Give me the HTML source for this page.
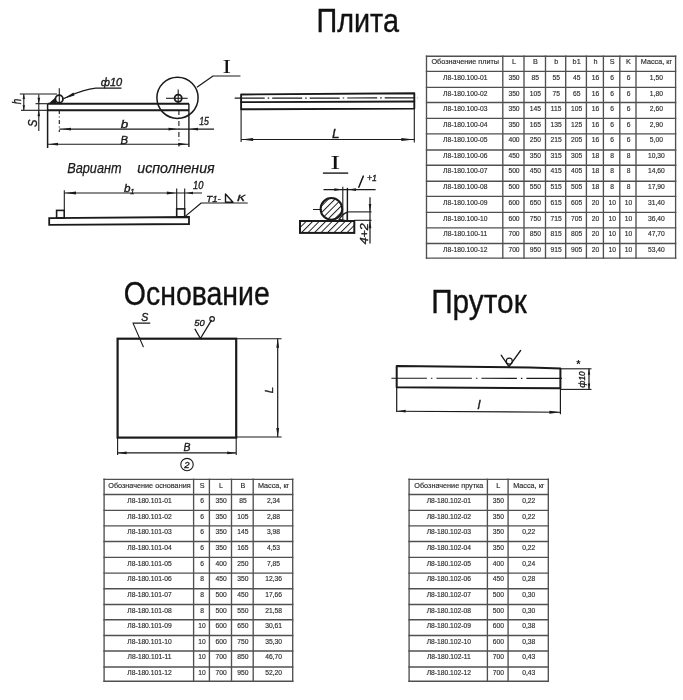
<!DOCTYPE html><html><head><meta charset="utf-8"><style>html,body{margin:0;padding:0;background:#fff;width:683px;height:700px;overflow:hidden}svg{display:block;filter:grayscale(1) blur(0.3px)}</style></head><body>
<svg width="683" height="700" viewBox="0 0 683 700" font-family='"Liberation Sans", sans-serif'>
<rect width="683" height="700" fill="#fff"/>
<text x="316.5" y="31.8" font-size="33" text-anchor="start" fill="#111" font-family='"Liberation Sans", sans-serif' textLength="82.5" lengthAdjust="spacingAndGlyphs" stroke="#111" stroke-width="0.35" style="">Плита</text>
<text x="123.8" y="304.8" font-size="33" text-anchor="start" fill="#111" font-family='"Liberation Sans", sans-serif' textLength="146" lengthAdjust="spacingAndGlyphs" stroke="#111" stroke-width="0.35" style="">Основание</text>
<text x="431.2" y="313.0" font-size="33" text-anchor="start" fill="#111" font-family='"Liberation Sans", sans-serif' textLength="95.5" lengthAdjust="spacingAndGlyphs" stroke="#111" stroke-width="0.35" style="">Пруток</text>
<line x1="47.6" y1="103.7" x2="189" y2="103.7" stroke="#1a1a1a" stroke-width="2.0" />
<line x1="47.6" y1="110.2" x2="189" y2="110.2" stroke="#1a1a1a" stroke-width="1.9" />
<line x1="47.6" y1="103.7" x2="47.6" y2="148" stroke="#1a1a1a" stroke-width="1.5" />
<line x1="188.9" y1="103.7" x2="188.9" y2="147" stroke="#1a1a1a" stroke-width="1.4" />
<circle cx="59.2" cy="99" r="3.8" fill="none" stroke="#1a1a1a" stroke-width="1.8"/>
<path d="M48.5 103.7 L52 100.5 L55.5 97.5 L56.5 103.7 Z" fill="#1a1a1a" stroke="none" stroke-width="1.2" stroke-linecap="round" stroke-linejoin="round"/>
<line x1="59.3" y1="88.3" x2="59.3" y2="104" stroke="#1a1a1a" stroke-width="1.1" />
<line x1="59.3" y1="110" x2="59.3" y2="132" stroke="#1a1a1a" stroke-width="1.1" stroke-dasharray="4,2.5,1,2.5"/>
<circle cx="178.2" cy="98.3" r="3.6" fill="none" stroke="#1a1a1a" stroke-width="1.8"/>
<line x1="166" y1="98.3" x2="187.6" y2="98.3" stroke="#1a1a1a" stroke-width="1.1" />
<line x1="178.2" y1="89.5" x2="178.2" y2="103" stroke="#1a1a1a" stroke-width="1.1" />
<line x1="178.9" y1="110" x2="178.9" y2="146.5" stroke="#1a1a1a" stroke-width="1.1" stroke-dasharray="5,2.5,1,2.5"/>
<circle cx="177.5" cy="97.8" r="20.6" fill="none" stroke="#1a1a1a" stroke-width="1.5"/>
<path d="M197.3 87 L213 76 L240 76" fill="none" stroke="#1a1a1a" stroke-width="1.2" stroke-linecap="round" stroke-linejoin="round"/>
<text x="226.8" y="72.8" font-size="19.5" text-anchor="middle" fill="#111" font-family='"Liberation Serif", serif' textLength="8.5" lengthAdjust="spacingAndGlyphs"  style="">I</text>
<path d="M64 98.5 C72 95, 82 89.5, 95.7 88.2 L121 88.2" fill="none" stroke="#1a1a1a" stroke-width="1.2" stroke-linecap="round" stroke-linejoin="round"/>
<path d="M63.5 98.8 L73.5 92.5 L74.5 95.5 Z" fill="#1a1a1a" stroke="none" stroke-width="1.2" stroke-linecap="round" stroke-linejoin="round"/>
<text x="111.5" y="85.8" font-size="10.5" text-anchor="middle" fill="#1a1a1a" stroke="#1a1a1a" stroke-width="0.35" font-style="italic" textLength="21.5" lengthAdjust="spacingAndGlyphs">ф10</text>
<line x1="19.8" y1="94" x2="57" y2="94" stroke="#1a1a1a" stroke-width="1.1" />
<line x1="21" y1="110.3" x2="47.6" y2="110.3" stroke="#1a1a1a" stroke-width="1.1" />
<line x1="23.8" y1="94" x2="23.8" y2="110.3" stroke="#1a1a1a" stroke-width="1.1" />
<path d="M23.80 94.00 L25.00 99.00 L22.60 99.00 Z" fill="#1a1a1a"/>
<path d="M23.80 110.30 L22.60 105.30 L25.00 105.30 Z" fill="#1a1a1a"/>
<text transform="translate(21.4,101.6) rotate(-90)" font-size="12.5" text-anchor="middle" fill="#1a1a1a" stroke="#1a1a1a" stroke-width="0.35" font-style="italic" textLength="5.5" lengthAdjust="spacingAndGlyphs">h</text>
<line x1="35.5" y1="103.7" x2="47.6" y2="103.7" stroke="#1a1a1a" stroke-width="1.1" />
<line x1="38.8" y1="94.5" x2="38.8" y2="131" stroke="#1a1a1a" stroke-width="1.1" />
<path d="M38.80 103.70 L37.50 97.70 L40.10 97.70 Z" fill="#1a1a1a"/>
<path d="M38.80 110.30 L40.10 116.30 L37.50 116.30 Z" fill="#1a1a1a"/>
<text transform="translate(37.3,123.2) rotate(-90)" font-size="12" text-anchor="middle" fill="#1a1a1a" stroke="#1a1a1a" stroke-width="0.35" font-style="italic" textLength="7.5" lengthAdjust="spacingAndGlyphs">S</text>
<line x1="59.3" y1="129.1" x2="214" y2="129.1" stroke="#1a1a1a" stroke-width="1.1" />
<path d="M62.00 129.10 L71.00 127.70 L71.00 130.50 Z" fill="#1a1a1a"/>
<path d="M177.50 129.10 L168.50 130.50 L168.50 127.70 Z" fill="#1a1a1a"/>
<path d="M190.00 129.10 L198.00 127.80 L198.00 130.40 Z" fill="#1a1a1a"/>
<text x="124.5" y="127.8" font-size="11.5" text-anchor="middle" fill="#1a1a1a" stroke="#1a1a1a" stroke-width="0.35" font-style="italic" textLength="7.5" lengthAdjust="spacingAndGlyphs">b</text>
<text x="204" y="124.7" font-size="10.5" text-anchor="middle" fill="#1a1a1a" stroke="#1a1a1a" stroke-width="0.35" font-style="italic" textLength="9.7" lengthAdjust="spacingAndGlyphs">15</text>
<line x1="47.6" y1="144.2" x2="188.9" y2="144.2" stroke="#1a1a1a" stroke-width="1.1" />
<path d="M49.00 144.20 L58.00 142.80 L58.00 145.60 Z" fill="#1a1a1a"/>
<path d="M187.50 144.20 L178.50 145.60 L178.50 142.80 Z" fill="#1a1a1a"/>
<text x="124.3" y="143.6" font-size="11.5" text-anchor="middle" fill="#1a1a1a" stroke="#1a1a1a" stroke-width="0.35" font-style="italic" textLength="7.5" lengthAdjust="spacingAndGlyphs">B</text>
<text x="67.2" y="173.2" font-size="14" text-anchor="start" fill="#1a1a1a" stroke="#1a1a1a" stroke-width="0.25" font-style="italic" textLength="54.4" lengthAdjust="spacingAndGlyphs">Вариант</text>
<text x="137.3" y="173.2" font-size="14" text-anchor="start" fill="#1a1a1a" stroke="#1a1a1a" stroke-width="0.25" font-style="italic" textLength="77.3" lengthAdjust="spacingAndGlyphs">исполнения</text>
<path d="M49.2 218.2 L189 217 L189 224 L49.2 224.8 Z" fill="none" stroke="#1a1a1a" stroke-width="1.8"/>
<rect x="56.6" y="210.4" width="7.6" height="7.6" fill="none" stroke="#1a1a1a" stroke-width="1.6"/>
<rect x="176.7" y="208.9" width="8" height="8" fill="none" stroke="#1a1a1a" stroke-width="1.6"/>
<line x1="64.3" y1="190.3" x2="64.3" y2="210.4" stroke="#1a1a1a" stroke-width="1.1" />
<line x1="176.7" y1="188.5" x2="176.7" y2="209" stroke="#1a1a1a" stroke-width="1.1" />
<line x1="184.7" y1="188.5" x2="184.7" y2="209" stroke="#1a1a1a" stroke-width="1.1" />
<line x1="64.3" y1="193" x2="202" y2="193" stroke="#1a1a1a" stroke-width="1.1" />
<path d="M65.00 193.00 L76.00 191.50 L76.00 194.50 Z" fill="#1a1a1a"/>
<path d="M175.80 193.00 L166.80 194.40 L166.80 191.60 Z" fill="#1a1a1a"/>
<path d="M186.00 193.00 L193.00 191.70 L193.00 194.30 Z" fill="#1a1a1a"/>
<text x="127.3" y="192.2" font-size="11" text-anchor="middle" fill="#1a1a1a" stroke="#1a1a1a" stroke-width="0.35" font-style="italic" textLength="6.5" lengthAdjust="spacingAndGlyphs">b</text>
<text x="132.4" y="193.6" font-size="7.5" text-anchor="middle" fill="#1a1a1a" stroke="#1a1a1a" stroke-width="0.35" font-style="italic">1</text>
<text x="198.2" y="189.4" font-size="10" text-anchor="middle" fill="#1a1a1a" stroke="#1a1a1a" stroke-width="0.35" font-style="italic" textLength="10.3" lengthAdjust="spacingAndGlyphs">10</text>
<path d="M185.8 215.9 L201.2 203 L247.3 203" fill="none" stroke="#1a1a1a" stroke-width="1.2" stroke-linecap="round" stroke-linejoin="round"/>
<text x="206.3" y="202.2" font-size="9.5" text-anchor="start" fill="#1a1a1a" stroke="#1a1a1a" stroke-width="0.35" font-style="italic" textLength="14.5" lengthAdjust="spacingAndGlyphs">Т1-</text>
<path d="M225.5 194 L225.5 202.2 L233 202.2 Z" fill="none" stroke="#1a1a1a" stroke-width="1.4" stroke-linecap="round" stroke-linejoin="round"/>
<text x="237" y="200.8" font-size="8.5" text-anchor="start" fill="#1a1a1a" stroke="#1a1a1a" stroke-width="0.35" font-style="italic" textLength="8" lengthAdjust="spacingAndGlyphs">К</text>
<path d="M241.1 94.5 L414.3 93.2 L414.3 108.6 L241.1 109.3 Z" fill="none" stroke="#1a1a1a" stroke-width="1.9" stroke-linecap="round" stroke-linejoin="round"/>
<path d="M241.1 102.1 L414.3 101.5" fill="none" stroke="#1a1a1a" stroke-width="1.8" stroke-linecap="round" stroke-linejoin="round"/>
<line x1="234.7" y1="98.2" x2="418" y2="97.9" stroke="#1a1a1a" stroke-width="1.2" stroke-dasharray="30,3,1.5,3"/>
<line x1="241.1" y1="109.3" x2="241.1" y2="142" stroke="#1a1a1a" stroke-width="1.1" />
<line x1="414.3" y1="108.6" x2="414.3" y2="142.4" stroke="#1a1a1a" stroke-width="1.1" />
<line x1="241.1" y1="139.5" x2="414.3" y2="139.5" stroke="#1a1a1a" stroke-width="1.1" />
<path d="M241.10 139.50 L253.10 138.10 L253.10 140.90 Z" fill="#1a1a1a"/>
<path d="M414.30 139.50 L401.30 141.00 L401.30 138.00 Z" fill="#1a1a1a"/>
<text x="335.7" y="138" font-size="12.5" text-anchor="middle" fill="#1a1a1a" stroke="#1a1a1a" stroke-width="0.35" font-style="italic" textLength="7.5" lengthAdjust="spacingAndGlyphs">L</text>
<text x="335.2" y="169.3" font-size="19.5" text-anchor="middle" fill="#111" font-family='"Liberation Serif", serif' textLength="10" lengthAdjust="spacingAndGlyphs"  style="">I</text>
<line x1="322.9" y1="173.1" x2="348.2" y2="173.1" stroke="#1a1a1a" stroke-width="1.4" />
<defs><pattern id="hat" width="4.6" height="4.6" patternUnits="userSpaceOnUse" patternTransform="rotate(45)"><line x1="0" y1="0" x2="0" y2="4.6" stroke="#1a1a1a" stroke-width="1.9"/></pattern></defs>
<line x1="313" y1="209.5" x2="322" y2="209.5" stroke="#1a1a1a" stroke-width="1.0" />
<circle cx="331.4" cy="208.9" r="10.8" fill="url(#hat)" stroke="#1a1a1a" stroke-width="2"/>
<rect x="300" y="221" width="54.3" height="11.9" fill="url(#hat)" stroke="#1a1a1a" stroke-width="2"/>
<path d="M339 219.5 Q343 213.5 347.3 212.2 L347.3 221 Z" fill="none" stroke="#1a1a1a" stroke-width="1.3" stroke-linecap="round" stroke-linejoin="round"/>
<line x1="342.8" y1="186.7" x2="342.8" y2="221" stroke="#1a1a1a" stroke-width="1.1" />
<line x1="347.4" y1="187.8" x2="347.4" y2="221" stroke="#1a1a1a" stroke-width="1.4" />
<line x1="323.5" y1="189.6" x2="375.6" y2="189.6" stroke="#1a1a1a" stroke-width="1.2" />
<path d="M342.30 189.60 L334.30 191.00 L334.30 188.20 Z" fill="#1a1a1a"/>
<path d="M348.00 189.60 L356.00 188.20 L356.00 191.00 Z" fill="#1a1a1a"/>
<line x1="347.5" y1="211.9" x2="371.5" y2="211.9" stroke="#1a1a1a" stroke-width="1.1" />
<line x1="354.3" y1="220.3" x2="371.5" y2="220.3" stroke="#1a1a1a" stroke-width="1.1" />
<line x1="370" y1="197.2" x2="370" y2="243.6" stroke="#1a1a1a" stroke-width="1.2" />
<path d="M370.00 211.90 L368.70 203.90 L371.30 203.90 Z" fill="#1a1a1a"/>
<path d="M370.00 220.30 L371.30 228.30 L368.70 228.30 Z" fill="#1a1a1a"/>
<path d="M358.8 187.3 L363.3 176.1" fill="none" stroke="#1a1a1a" stroke-width="1.5" stroke-linecap="round" stroke-linejoin="round"/>
<text x="372" y="181.3" font-size="9.5" text-anchor="middle" fill="#1a1a1a" stroke="#1a1a1a" stroke-width="0.35" font-style="italic" textLength="10" lengthAdjust="spacingAndGlyphs">+1</text>
<text transform="translate(367.6,233.8) rotate(-90)" font-size="10.5" text-anchor="middle" fill="#1a1a1a" stroke="#1a1a1a" stroke-width="0.35" font-style="italic" textLength="21" lengthAdjust="spacingAndGlyphs">4+2</text>
<rect x="117.6" y="338.7" width="118.6" height="98.9" fill="none" stroke="#1a1a1a" stroke-width="2.2"/>
<line x1="236.2" y1="338.7" x2="281.6" y2="338.7" stroke="#1a1a1a" stroke-width="1.1" />
<line x1="236.2" y1="437" x2="281.6" y2="437" stroke="#1a1a1a" stroke-width="1.1" />
<line x1="277.7" y1="338.7" x2="277.7" y2="437" stroke="#1a1a1a" stroke-width="1.2" />
<path d="M277.70 338.70 L279.10 347.70 L276.30 347.70 Z" fill="#1a1a1a"/>
<path d="M277.70 437.00 L276.30 428.00 L279.10 428.00 Z" fill="#1a1a1a"/>
<text transform="translate(272.5,390) rotate(-90)" font-size="11.5" text-anchor="middle" fill="#1a1a1a" stroke="#1a1a1a" stroke-width="0.35" font-style="italic">L</text>
<line x1="117.6" y1="437.6" x2="117.6" y2="455" stroke="#1a1a1a" stroke-width="1.1" />
<line x1="236.2" y1="437.6" x2="236.2" y2="455" stroke="#1a1a1a" stroke-width="1.1" />
<line x1="117.6" y1="452.9" x2="236.2" y2="452.9" stroke="#1a1a1a" stroke-width="1.1" />
<path d="M117.60 452.90 L126.60 451.50 L126.60 454.30 Z" fill="#1a1a1a"/>
<path d="M236.20 452.90 L227.20 454.30 L227.20 451.50 Z" fill="#1a1a1a"/>
<text x="187" y="450.5" font-size="11.5" text-anchor="middle" fill="#1a1a1a" stroke="#1a1a1a" stroke-width="0.35" font-style="italic" textLength="7" lengthAdjust="spacingAndGlyphs">B</text>
<circle cx="187" cy="464.6" r="6.2" fill="none" stroke="#1a1a1a" stroke-width="1.1"/>
<text x="187" y="468.3" font-size="9.5" text-anchor="middle" fill="#1a1a1a" stroke="#1a1a1a" stroke-width="0.35" font-style="italic">2</text>
<path d="M143.3 346.7 L133 323.1 L149.9 323.1" fill="none" stroke="#1a1a1a" stroke-width="1.1" stroke-linecap="round" stroke-linejoin="round"/>
<text x="144.8" y="321.2" font-size="10.5" text-anchor="middle" fill="#1a1a1a" stroke="#1a1a1a" stroke-width="0.35" font-style="italic">S</text>
<path d="M195 329.2 L200.4 338.5 L211.4 320.4" fill="none" stroke="#1a1a1a" stroke-width="1.3" stroke-linecap="round" stroke-linejoin="round"/>
<text x="199.5" y="326.4" font-size="9.5" text-anchor="middle" fill="#1a1a1a" stroke="#1a1a1a" stroke-width="0.35" font-style="italic" textLength="10.5" lengthAdjust="spacingAndGlyphs">50</text>
<circle cx="212.1" cy="318.9" r="2.3" fill="none" stroke="#1a1a1a" stroke-width="1.1"/>
<path d="M396.7 366.1 L530 367.5 L560.4 368.6 L560.4 388.2 L396.7 387.3 Z" fill="none" stroke="#1a1a1a" stroke-width="2.0" stroke-linecap="round" stroke-linejoin="round"/>
<line x1="391.4" y1="378.2" x2="566" y2="378.4" stroke="#1a1a1a" stroke-width="1.1" stroke-dasharray="35.5,4,1.5,4"/>
<line x1="396.7" y1="387.3" x2="396.7" y2="412" stroke="#1a1a1a" stroke-width="1.2" />
<line x1="560.4" y1="388.2" x2="560.4" y2="414.3" stroke="#1a1a1a" stroke-width="1.2" />
<line x1="396.7" y1="411.2" x2="560.4" y2="412.2" stroke="#1a1a1a" stroke-width="1.1" />
<path d="M396.70 411.20 L405.70 409.80 L405.70 412.60 Z" fill="#1a1a1a"/>
<path d="M560.40 412.20 L549.40 413.70 L549.40 410.70 Z" fill="#1a1a1a"/>
<text x="479" y="408.5" font-size="13" text-anchor="middle" fill="#1a1a1a" stroke="#1a1a1a" stroke-width="0.35" font-style="italic">l</text>
<line x1="560.4" y1="368.8" x2="591.5" y2="368.8" stroke="#1a1a1a" stroke-width="1.1" />
<line x1="560.4" y1="389.4" x2="591.5" y2="389.4" stroke="#1a1a1a" stroke-width="1.1" />
<line x1="589" y1="368.8" x2="589" y2="390" stroke="#1a1a1a" stroke-width="1.2" />
<path d="M589.00 368.80 L590.20 374.80 L587.80 374.80 Z" fill="#1a1a1a"/>
<path d="M589.00 389.40 L587.80 383.40 L590.20 383.40 Z" fill="#1a1a1a"/>
<text transform="translate(585,379.4) rotate(-90)" font-size="9.5" text-anchor="middle" fill="#1a1a1a" stroke="#1a1a1a" stroke-width="0.35" font-style="italic" textLength="16" lengthAdjust="spacingAndGlyphs">ф10</text>
<path d="M501.3 355.3 L509 366.6 L520.6 350.5" fill="none" stroke="#1a1a1a" stroke-width="1.3" stroke-linecap="round" stroke-linejoin="round"/>
<circle cx="509.3" cy="361.2" r="3" fill="none" stroke="#1a1a1a" stroke-width="1.2"/>
<text x="578.3" y="367.5" font-size="11" text-anchor="middle" fill="#1a1a1a" font-family='"Liberation Sans", sans-serif' font-weight="bold" style="">*</text>
<line x1="425.8" y1="56.2" x2="676.3000000000001" y2="56.2" stroke="#505050" stroke-width="1.35" />
<line x1="425.8" y1="71.3" x2="676.3000000000001" y2="71.3" stroke="#505050" stroke-width="1.35" />
<line x1="425.8" y1="87.3" x2="676.3000000000001" y2="87.3" stroke="#505050" stroke-width="1.35" />
<line x1="425.8" y1="102.5" x2="676.3000000000001" y2="102.5" stroke="#505050" stroke-width="1.35" />
<line x1="425.8" y1="118.4" x2="676.3000000000001" y2="118.4" stroke="#505050" stroke-width="1.35" />
<line x1="425.8" y1="133.8" x2="676.3000000000001" y2="133.8" stroke="#505050" stroke-width="1.35" />
<line x1="425.8" y1="150" x2="676.3000000000001" y2="150" stroke="#505050" stroke-width="1.35" />
<line x1="425.8" y1="165.2" x2="676.3000000000001" y2="165.2" stroke="#505050" stroke-width="1.35" />
<line x1="425.8" y1="181.2" x2="676.3000000000001" y2="181.2" stroke="#505050" stroke-width="1.35" />
<line x1="425.8" y1="196.4" x2="676.3000000000001" y2="196.4" stroke="#505050" stroke-width="1.35" />
<line x1="425.8" y1="212.3" x2="676.3000000000001" y2="212.3" stroke="#505050" stroke-width="1.35" />
<line x1="425.8" y1="227.8" x2="676.3000000000001" y2="227.8" stroke="#505050" stroke-width="1.35" />
<line x1="425.8" y1="243.5" x2="676.3000000000001" y2="243.5" stroke="#505050" stroke-width="1.35" />
<line x1="425.8" y1="258.1" x2="676.3000000000001" y2="258.1" stroke="#505050" stroke-width="1.35" />
<line x1="426.5" y1="55.5" x2="426.5" y2="258.8" stroke="#505050" stroke-width="1.35" />
<line x1="502.8" y1="55.5" x2="502.8" y2="258.8" stroke="#505050" stroke-width="1.35" />
<line x1="524" y1="55.5" x2="524" y2="258.8" stroke="#505050" stroke-width="1.35" />
<line x1="545.5" y1="55.5" x2="545.5" y2="258.8" stroke="#505050" stroke-width="1.35" />
<line x1="565.7" y1="55.5" x2="565.7" y2="258.8" stroke="#505050" stroke-width="1.35" />
<line x1="586.4" y1="55.5" x2="586.4" y2="258.8" stroke="#505050" stroke-width="1.35" />
<line x1="603.4" y1="55.5" x2="603.4" y2="258.8" stroke="#505050" stroke-width="1.35" />
<line x1="619.8" y1="55.5" x2="619.8" y2="258.8" stroke="#505050" stroke-width="1.35" />
<line x1="636" y1="55.5" x2="636" y2="258.8" stroke="#505050" stroke-width="1.35" />
<line x1="675.6" y1="55.5" x2="675.6" y2="258.8" stroke="#505050" stroke-width="1.35" />
<text transform="translate(465.25,64.40) scale(0.92,1)" font-size="7.9" text-anchor="middle" fill="#2e2e2e" stroke="#2e2e2e" stroke-width="0.18">Обозначение плиты</text>
<text transform="translate(514.00,64.40) scale(0.92,1)" font-size="7.9" text-anchor="middle" fill="#2e2e2e" stroke="#2e2e2e" stroke-width="0.18">L</text>
<text transform="translate(535.35,64.40) scale(0.92,1)" font-size="7.9" text-anchor="middle" fill="#2e2e2e" stroke="#2e2e2e" stroke-width="0.18">B</text>
<text transform="translate(556.20,64.40) scale(0.92,1)" font-size="7.9" text-anchor="middle" fill="#2e2e2e" stroke="#2e2e2e" stroke-width="0.18">b</text>
<text transform="translate(576.65,64.40) scale(0.92,1)" font-size="7.9" text-anchor="middle" fill="#2e2e2e" stroke="#2e2e2e" stroke-width="0.18">b1</text>
<text transform="translate(595.50,64.40) scale(0.92,1)" font-size="7.9" text-anchor="middle" fill="#2e2e2e" stroke="#2e2e2e" stroke-width="0.18">h</text>
<text transform="translate(612.20,64.40) scale(0.92,1)" font-size="7.9" text-anchor="middle" fill="#2e2e2e" stroke="#2e2e2e" stroke-width="0.18">S</text>
<text transform="translate(628.50,64.40) scale(0.92,1)" font-size="7.9" text-anchor="middle" fill="#2e2e2e" stroke="#2e2e2e" stroke-width="0.18">K</text>
<text transform="translate(656.40,64.40) scale(0.92,1)" font-size="7.9" text-anchor="middle" fill="#2e2e2e" stroke="#2e2e2e" stroke-width="0.18">Масса, кг</text>
<text transform="translate(465.25,79.50) scale(0.85,1)" font-size="7.9" text-anchor="middle" fill="#2e2e2e" stroke="#2e2e2e" stroke-width="0.18">Л8-180.100-01</text>
<text transform="translate(514.00,79.50) scale(0.85,1)" font-size="7.9" text-anchor="middle" fill="#2e2e2e" stroke="#2e2e2e" stroke-width="0.18">350</text>
<text transform="translate(535.35,79.50) scale(0.85,1)" font-size="7.9" text-anchor="middle" fill="#2e2e2e" stroke="#2e2e2e" stroke-width="0.18">85</text>
<text transform="translate(556.20,79.50) scale(0.85,1)" font-size="7.9" text-anchor="middle" fill="#2e2e2e" stroke="#2e2e2e" stroke-width="0.18">55</text>
<text transform="translate(576.65,79.50) scale(0.85,1)" font-size="7.9" text-anchor="middle" fill="#2e2e2e" stroke="#2e2e2e" stroke-width="0.18">45</text>
<text transform="translate(595.50,79.50) scale(0.85,1)" font-size="7.9" text-anchor="middle" fill="#2e2e2e" stroke="#2e2e2e" stroke-width="0.18">16</text>
<text transform="translate(612.20,79.50) scale(0.85,1)" font-size="7.9" text-anchor="middle" fill="#2e2e2e" stroke="#2e2e2e" stroke-width="0.18">6</text>
<text transform="translate(628.50,79.50) scale(0.85,1)" font-size="7.9" text-anchor="middle" fill="#2e2e2e" stroke="#2e2e2e" stroke-width="0.18">6</text>
<text transform="translate(656.40,79.50) scale(0.85,1)" font-size="7.9" text-anchor="middle" fill="#2e2e2e" stroke="#2e2e2e" stroke-width="0.18">1,50</text>
<text transform="translate(465.25,95.50) scale(0.85,1)" font-size="7.9" text-anchor="middle" fill="#2e2e2e" stroke="#2e2e2e" stroke-width="0.18">Л8-180.100-02</text>
<text transform="translate(514.00,95.50) scale(0.85,1)" font-size="7.9" text-anchor="middle" fill="#2e2e2e" stroke="#2e2e2e" stroke-width="0.18">350</text>
<text transform="translate(535.35,95.50) scale(0.85,1)" font-size="7.9" text-anchor="middle" fill="#2e2e2e" stroke="#2e2e2e" stroke-width="0.18">105</text>
<text transform="translate(556.20,95.50) scale(0.85,1)" font-size="7.9" text-anchor="middle" fill="#2e2e2e" stroke="#2e2e2e" stroke-width="0.18">75</text>
<text transform="translate(576.65,95.50) scale(0.85,1)" font-size="7.9" text-anchor="middle" fill="#2e2e2e" stroke="#2e2e2e" stroke-width="0.18">65</text>
<text transform="translate(595.50,95.50) scale(0.85,1)" font-size="7.9" text-anchor="middle" fill="#2e2e2e" stroke="#2e2e2e" stroke-width="0.18">16</text>
<text transform="translate(612.20,95.50) scale(0.85,1)" font-size="7.9" text-anchor="middle" fill="#2e2e2e" stroke="#2e2e2e" stroke-width="0.18">6</text>
<text transform="translate(628.50,95.50) scale(0.85,1)" font-size="7.9" text-anchor="middle" fill="#2e2e2e" stroke="#2e2e2e" stroke-width="0.18">6</text>
<text transform="translate(656.40,95.50) scale(0.85,1)" font-size="7.9" text-anchor="middle" fill="#2e2e2e" stroke="#2e2e2e" stroke-width="0.18">1,80</text>
<text transform="translate(465.25,110.70) scale(0.85,1)" font-size="7.9" text-anchor="middle" fill="#2e2e2e" stroke="#2e2e2e" stroke-width="0.18">Л8-180.100-03</text>
<text transform="translate(514.00,110.70) scale(0.85,1)" font-size="7.9" text-anchor="middle" fill="#2e2e2e" stroke="#2e2e2e" stroke-width="0.18">350</text>
<text transform="translate(535.35,110.70) scale(0.85,1)" font-size="7.9" text-anchor="middle" fill="#2e2e2e" stroke="#2e2e2e" stroke-width="0.18">145</text>
<text transform="translate(556.20,110.70) scale(0.85,1)" font-size="7.9" text-anchor="middle" fill="#2e2e2e" stroke="#2e2e2e" stroke-width="0.18">115</text>
<text transform="translate(576.65,110.70) scale(0.85,1)" font-size="7.9" text-anchor="middle" fill="#2e2e2e" stroke="#2e2e2e" stroke-width="0.18">105</text>
<text transform="translate(595.50,110.70) scale(0.85,1)" font-size="7.9" text-anchor="middle" fill="#2e2e2e" stroke="#2e2e2e" stroke-width="0.18">16</text>
<text transform="translate(612.20,110.70) scale(0.85,1)" font-size="7.9" text-anchor="middle" fill="#2e2e2e" stroke="#2e2e2e" stroke-width="0.18">6</text>
<text transform="translate(628.50,110.70) scale(0.85,1)" font-size="7.9" text-anchor="middle" fill="#2e2e2e" stroke="#2e2e2e" stroke-width="0.18">6</text>
<text transform="translate(656.40,110.70) scale(0.85,1)" font-size="7.9" text-anchor="middle" fill="#2e2e2e" stroke="#2e2e2e" stroke-width="0.18">2,60</text>
<text transform="translate(465.25,126.60) scale(0.85,1)" font-size="7.9" text-anchor="middle" fill="#2e2e2e" stroke="#2e2e2e" stroke-width="0.18">Л8-180.100-04</text>
<text transform="translate(514.00,126.60) scale(0.85,1)" font-size="7.9" text-anchor="middle" fill="#2e2e2e" stroke="#2e2e2e" stroke-width="0.18">350</text>
<text transform="translate(535.35,126.60) scale(0.85,1)" font-size="7.9" text-anchor="middle" fill="#2e2e2e" stroke="#2e2e2e" stroke-width="0.18">165</text>
<text transform="translate(556.20,126.60) scale(0.85,1)" font-size="7.9" text-anchor="middle" fill="#2e2e2e" stroke="#2e2e2e" stroke-width="0.18">135</text>
<text transform="translate(576.65,126.60) scale(0.85,1)" font-size="7.9" text-anchor="middle" fill="#2e2e2e" stroke="#2e2e2e" stroke-width="0.18">125</text>
<text transform="translate(595.50,126.60) scale(0.85,1)" font-size="7.9" text-anchor="middle" fill="#2e2e2e" stroke="#2e2e2e" stroke-width="0.18">16</text>
<text transform="translate(612.20,126.60) scale(0.85,1)" font-size="7.9" text-anchor="middle" fill="#2e2e2e" stroke="#2e2e2e" stroke-width="0.18">6</text>
<text transform="translate(628.50,126.60) scale(0.85,1)" font-size="7.9" text-anchor="middle" fill="#2e2e2e" stroke="#2e2e2e" stroke-width="0.18">6</text>
<text transform="translate(656.40,126.60) scale(0.85,1)" font-size="7.9" text-anchor="middle" fill="#2e2e2e" stroke="#2e2e2e" stroke-width="0.18">2,90</text>
<text transform="translate(465.25,142.00) scale(0.85,1)" font-size="7.9" text-anchor="middle" fill="#2e2e2e" stroke="#2e2e2e" stroke-width="0.18">Л8-180.100-05</text>
<text transform="translate(514.00,142.00) scale(0.85,1)" font-size="7.9" text-anchor="middle" fill="#2e2e2e" stroke="#2e2e2e" stroke-width="0.18">400</text>
<text transform="translate(535.35,142.00) scale(0.85,1)" font-size="7.9" text-anchor="middle" fill="#2e2e2e" stroke="#2e2e2e" stroke-width="0.18">250</text>
<text transform="translate(556.20,142.00) scale(0.85,1)" font-size="7.9" text-anchor="middle" fill="#2e2e2e" stroke="#2e2e2e" stroke-width="0.18">215</text>
<text transform="translate(576.65,142.00) scale(0.85,1)" font-size="7.9" text-anchor="middle" fill="#2e2e2e" stroke="#2e2e2e" stroke-width="0.18">205</text>
<text transform="translate(595.50,142.00) scale(0.85,1)" font-size="7.9" text-anchor="middle" fill="#2e2e2e" stroke="#2e2e2e" stroke-width="0.18">16</text>
<text transform="translate(612.20,142.00) scale(0.85,1)" font-size="7.9" text-anchor="middle" fill="#2e2e2e" stroke="#2e2e2e" stroke-width="0.18">6</text>
<text transform="translate(628.50,142.00) scale(0.85,1)" font-size="7.9" text-anchor="middle" fill="#2e2e2e" stroke="#2e2e2e" stroke-width="0.18">6</text>
<text transform="translate(656.40,142.00) scale(0.85,1)" font-size="7.9" text-anchor="middle" fill="#2e2e2e" stroke="#2e2e2e" stroke-width="0.18">5,00</text>
<text transform="translate(465.25,158.20) scale(0.85,1)" font-size="7.9" text-anchor="middle" fill="#2e2e2e" stroke="#2e2e2e" stroke-width="0.18">Л8-180.100-06</text>
<text transform="translate(514.00,158.20) scale(0.85,1)" font-size="7.9" text-anchor="middle" fill="#2e2e2e" stroke="#2e2e2e" stroke-width="0.18">450</text>
<text transform="translate(535.35,158.20) scale(0.85,1)" font-size="7.9" text-anchor="middle" fill="#2e2e2e" stroke="#2e2e2e" stroke-width="0.18">350</text>
<text transform="translate(556.20,158.20) scale(0.85,1)" font-size="7.9" text-anchor="middle" fill="#2e2e2e" stroke="#2e2e2e" stroke-width="0.18">315</text>
<text transform="translate(576.65,158.20) scale(0.85,1)" font-size="7.9" text-anchor="middle" fill="#2e2e2e" stroke="#2e2e2e" stroke-width="0.18">305</text>
<text transform="translate(595.50,158.20) scale(0.85,1)" font-size="7.9" text-anchor="middle" fill="#2e2e2e" stroke="#2e2e2e" stroke-width="0.18">18</text>
<text transform="translate(612.20,158.20) scale(0.85,1)" font-size="7.9" text-anchor="middle" fill="#2e2e2e" stroke="#2e2e2e" stroke-width="0.18">8</text>
<text transform="translate(628.50,158.20) scale(0.85,1)" font-size="7.9" text-anchor="middle" fill="#2e2e2e" stroke="#2e2e2e" stroke-width="0.18">8</text>
<text transform="translate(656.40,158.20) scale(0.85,1)" font-size="7.9" text-anchor="middle" fill="#2e2e2e" stroke="#2e2e2e" stroke-width="0.18">10,30</text>
<text transform="translate(465.25,173.40) scale(0.85,1)" font-size="7.9" text-anchor="middle" fill="#2e2e2e" stroke="#2e2e2e" stroke-width="0.18">Л8-180.100-07</text>
<text transform="translate(514.00,173.40) scale(0.85,1)" font-size="7.9" text-anchor="middle" fill="#2e2e2e" stroke="#2e2e2e" stroke-width="0.18">500</text>
<text transform="translate(535.35,173.40) scale(0.85,1)" font-size="7.9" text-anchor="middle" fill="#2e2e2e" stroke="#2e2e2e" stroke-width="0.18">450</text>
<text transform="translate(556.20,173.40) scale(0.85,1)" font-size="7.9" text-anchor="middle" fill="#2e2e2e" stroke="#2e2e2e" stroke-width="0.18">415</text>
<text transform="translate(576.65,173.40) scale(0.85,1)" font-size="7.9" text-anchor="middle" fill="#2e2e2e" stroke="#2e2e2e" stroke-width="0.18">405</text>
<text transform="translate(595.50,173.40) scale(0.85,1)" font-size="7.9" text-anchor="middle" fill="#2e2e2e" stroke="#2e2e2e" stroke-width="0.18">18</text>
<text transform="translate(612.20,173.40) scale(0.85,1)" font-size="7.9" text-anchor="middle" fill="#2e2e2e" stroke="#2e2e2e" stroke-width="0.18">8</text>
<text transform="translate(628.50,173.40) scale(0.85,1)" font-size="7.9" text-anchor="middle" fill="#2e2e2e" stroke="#2e2e2e" stroke-width="0.18">8</text>
<text transform="translate(656.40,173.40) scale(0.85,1)" font-size="7.9" text-anchor="middle" fill="#2e2e2e" stroke="#2e2e2e" stroke-width="0.18">14,60</text>
<text transform="translate(465.25,189.40) scale(0.85,1)" font-size="7.9" text-anchor="middle" fill="#2e2e2e" stroke="#2e2e2e" stroke-width="0.18">Л8-180.100-08</text>
<text transform="translate(514.00,189.40) scale(0.85,1)" font-size="7.9" text-anchor="middle" fill="#2e2e2e" stroke="#2e2e2e" stroke-width="0.18">500</text>
<text transform="translate(535.35,189.40) scale(0.85,1)" font-size="7.9" text-anchor="middle" fill="#2e2e2e" stroke="#2e2e2e" stroke-width="0.18">550</text>
<text transform="translate(556.20,189.40) scale(0.85,1)" font-size="7.9" text-anchor="middle" fill="#2e2e2e" stroke="#2e2e2e" stroke-width="0.18">515</text>
<text transform="translate(576.65,189.40) scale(0.85,1)" font-size="7.9" text-anchor="middle" fill="#2e2e2e" stroke="#2e2e2e" stroke-width="0.18">505</text>
<text transform="translate(595.50,189.40) scale(0.85,1)" font-size="7.9" text-anchor="middle" fill="#2e2e2e" stroke="#2e2e2e" stroke-width="0.18">18</text>
<text transform="translate(612.20,189.40) scale(0.85,1)" font-size="7.9" text-anchor="middle" fill="#2e2e2e" stroke="#2e2e2e" stroke-width="0.18">8</text>
<text transform="translate(628.50,189.40) scale(0.85,1)" font-size="7.9" text-anchor="middle" fill="#2e2e2e" stroke="#2e2e2e" stroke-width="0.18">8</text>
<text transform="translate(656.40,189.40) scale(0.85,1)" font-size="7.9" text-anchor="middle" fill="#2e2e2e" stroke="#2e2e2e" stroke-width="0.18">17,90</text>
<text transform="translate(465.25,204.60) scale(0.85,1)" font-size="7.9" text-anchor="middle" fill="#2e2e2e" stroke="#2e2e2e" stroke-width="0.18">Л8-180.100-09</text>
<text transform="translate(514.00,204.60) scale(0.85,1)" font-size="7.9" text-anchor="middle" fill="#2e2e2e" stroke="#2e2e2e" stroke-width="0.18">600</text>
<text transform="translate(535.35,204.60) scale(0.85,1)" font-size="7.9" text-anchor="middle" fill="#2e2e2e" stroke="#2e2e2e" stroke-width="0.18">650</text>
<text transform="translate(556.20,204.60) scale(0.85,1)" font-size="7.9" text-anchor="middle" fill="#2e2e2e" stroke="#2e2e2e" stroke-width="0.18">615</text>
<text transform="translate(576.65,204.60) scale(0.85,1)" font-size="7.9" text-anchor="middle" fill="#2e2e2e" stroke="#2e2e2e" stroke-width="0.18">605</text>
<text transform="translate(595.50,204.60) scale(0.85,1)" font-size="7.9" text-anchor="middle" fill="#2e2e2e" stroke="#2e2e2e" stroke-width="0.18">20</text>
<text transform="translate(612.20,204.60) scale(0.85,1)" font-size="7.9" text-anchor="middle" fill="#2e2e2e" stroke="#2e2e2e" stroke-width="0.18">10</text>
<text transform="translate(628.50,204.60) scale(0.85,1)" font-size="7.9" text-anchor="middle" fill="#2e2e2e" stroke="#2e2e2e" stroke-width="0.18">10</text>
<text transform="translate(656.40,204.60) scale(0.85,1)" font-size="7.9" text-anchor="middle" fill="#2e2e2e" stroke="#2e2e2e" stroke-width="0.18">31,40</text>
<text transform="translate(465.25,220.50) scale(0.85,1)" font-size="7.9" text-anchor="middle" fill="#2e2e2e" stroke="#2e2e2e" stroke-width="0.18">Л8-180.100-10</text>
<text transform="translate(514.00,220.50) scale(0.85,1)" font-size="7.9" text-anchor="middle" fill="#2e2e2e" stroke="#2e2e2e" stroke-width="0.18">600</text>
<text transform="translate(535.35,220.50) scale(0.85,1)" font-size="7.9" text-anchor="middle" fill="#2e2e2e" stroke="#2e2e2e" stroke-width="0.18">750</text>
<text transform="translate(556.20,220.50) scale(0.85,1)" font-size="7.9" text-anchor="middle" fill="#2e2e2e" stroke="#2e2e2e" stroke-width="0.18">715</text>
<text transform="translate(576.65,220.50) scale(0.85,1)" font-size="7.9" text-anchor="middle" fill="#2e2e2e" stroke="#2e2e2e" stroke-width="0.18">705</text>
<text transform="translate(595.50,220.50) scale(0.85,1)" font-size="7.9" text-anchor="middle" fill="#2e2e2e" stroke="#2e2e2e" stroke-width="0.18">20</text>
<text transform="translate(612.20,220.50) scale(0.85,1)" font-size="7.9" text-anchor="middle" fill="#2e2e2e" stroke="#2e2e2e" stroke-width="0.18">10</text>
<text transform="translate(628.50,220.50) scale(0.85,1)" font-size="7.9" text-anchor="middle" fill="#2e2e2e" stroke="#2e2e2e" stroke-width="0.18">10</text>
<text transform="translate(656.40,220.50) scale(0.85,1)" font-size="7.9" text-anchor="middle" fill="#2e2e2e" stroke="#2e2e2e" stroke-width="0.18">36,40</text>
<text transform="translate(465.25,236.00) scale(0.85,1)" font-size="7.9" text-anchor="middle" fill="#2e2e2e" stroke="#2e2e2e" stroke-width="0.18">Л8-180.100-11</text>
<text transform="translate(514.00,236.00) scale(0.85,1)" font-size="7.9" text-anchor="middle" fill="#2e2e2e" stroke="#2e2e2e" stroke-width="0.18">700</text>
<text transform="translate(535.35,236.00) scale(0.85,1)" font-size="7.9" text-anchor="middle" fill="#2e2e2e" stroke="#2e2e2e" stroke-width="0.18">850</text>
<text transform="translate(556.20,236.00) scale(0.85,1)" font-size="7.9" text-anchor="middle" fill="#2e2e2e" stroke="#2e2e2e" stroke-width="0.18">815</text>
<text transform="translate(576.65,236.00) scale(0.85,1)" font-size="7.9" text-anchor="middle" fill="#2e2e2e" stroke="#2e2e2e" stroke-width="0.18">805</text>
<text transform="translate(595.50,236.00) scale(0.85,1)" font-size="7.9" text-anchor="middle" fill="#2e2e2e" stroke="#2e2e2e" stroke-width="0.18">20</text>
<text transform="translate(612.20,236.00) scale(0.85,1)" font-size="7.9" text-anchor="middle" fill="#2e2e2e" stroke="#2e2e2e" stroke-width="0.18">10</text>
<text transform="translate(628.50,236.00) scale(0.85,1)" font-size="7.9" text-anchor="middle" fill="#2e2e2e" stroke="#2e2e2e" stroke-width="0.18">10</text>
<text transform="translate(656.40,236.00) scale(0.85,1)" font-size="7.9" text-anchor="middle" fill="#2e2e2e" stroke="#2e2e2e" stroke-width="0.18">47,70</text>
<text transform="translate(465.25,251.70) scale(0.85,1)" font-size="7.9" text-anchor="middle" fill="#2e2e2e" stroke="#2e2e2e" stroke-width="0.18">Л8-180.100-12</text>
<text transform="translate(514.00,251.70) scale(0.85,1)" font-size="7.9" text-anchor="middle" fill="#2e2e2e" stroke="#2e2e2e" stroke-width="0.18">700</text>
<text transform="translate(535.35,251.70) scale(0.85,1)" font-size="7.9" text-anchor="middle" fill="#2e2e2e" stroke="#2e2e2e" stroke-width="0.18">950</text>
<text transform="translate(556.20,251.70) scale(0.85,1)" font-size="7.9" text-anchor="middle" fill="#2e2e2e" stroke="#2e2e2e" stroke-width="0.18">915</text>
<text transform="translate(576.65,251.70) scale(0.85,1)" font-size="7.9" text-anchor="middle" fill="#2e2e2e" stroke="#2e2e2e" stroke-width="0.18">905</text>
<text transform="translate(595.50,251.70) scale(0.85,1)" font-size="7.9" text-anchor="middle" fill="#2e2e2e" stroke="#2e2e2e" stroke-width="0.18">20</text>
<text transform="translate(612.20,251.70) scale(0.85,1)" font-size="7.9" text-anchor="middle" fill="#2e2e2e" stroke="#2e2e2e" stroke-width="0.18">10</text>
<text transform="translate(628.50,251.70) scale(0.85,1)" font-size="7.9" text-anchor="middle" fill="#2e2e2e" stroke="#2e2e2e" stroke-width="0.18">10</text>
<text transform="translate(656.40,251.70) scale(0.85,1)" font-size="7.9" text-anchor="middle" fill="#2e2e2e" stroke="#2e2e2e" stroke-width="0.18">53,40</text>
<line x1="103.39999999999999" y1="479.3" x2="293.4" y2="479.3" stroke="#505050" stroke-width="1.35" />
<line x1="103.39999999999999" y1="494.5" x2="293.4" y2="494.5" stroke="#505050" stroke-width="1.35" />
<line x1="103.39999999999999" y1="510.3" x2="293.4" y2="510.3" stroke="#505050" stroke-width="1.35" />
<line x1="103.39999999999999" y1="525.8" x2="293.4" y2="525.8" stroke="#505050" stroke-width="1.35" />
<line x1="103.39999999999999" y1="541.5" x2="293.4" y2="541.5" stroke="#505050" stroke-width="1.35" />
<line x1="103.39999999999999" y1="557.3" x2="293.4" y2="557.3" stroke="#505050" stroke-width="1.35" />
<line x1="103.39999999999999" y1="573.1" x2="293.4" y2="573.1" stroke="#505050" stroke-width="1.35" />
<line x1="103.39999999999999" y1="588.7" x2="293.4" y2="588.7" stroke="#505050" stroke-width="1.35" />
<line x1="103.39999999999999" y1="604.5" x2="293.4" y2="604.5" stroke="#505050" stroke-width="1.35" />
<line x1="103.39999999999999" y1="619.7" x2="293.4" y2="619.7" stroke="#505050" stroke-width="1.35" />
<line x1="103.39999999999999" y1="635.5" x2="293.4" y2="635.5" stroke="#505050" stroke-width="1.35" />
<line x1="103.39999999999999" y1="651" x2="293.4" y2="651" stroke="#505050" stroke-width="1.35" />
<line x1="103.39999999999999" y1="667" x2="293.4" y2="667" stroke="#505050" stroke-width="1.35" />
<line x1="103.39999999999999" y1="681.2" x2="293.4" y2="681.2" stroke="#505050" stroke-width="1.35" />
<line x1="104.1" y1="478.6" x2="104.1" y2="681.9000000000001" stroke="#505050" stroke-width="1.35" />
<line x1="193.6" y1="478.6" x2="193.6" y2="681.9000000000001" stroke="#505050" stroke-width="1.35" />
<line x1="209.4" y1="478.6" x2="209.4" y2="681.9000000000001" stroke="#505050" stroke-width="1.35" />
<line x1="231.5" y1="478.6" x2="231.5" y2="681.9000000000001" stroke="#505050" stroke-width="1.35" />
<line x1="253.2" y1="478.6" x2="253.2" y2="681.9000000000001" stroke="#505050" stroke-width="1.35" />
<line x1="292.7" y1="478.6" x2="292.7" y2="681.9000000000001" stroke="#505050" stroke-width="1.35" />
<text transform="translate(149.45,487.50) scale(0.92,1)" font-size="7.9" text-anchor="middle" fill="#2e2e2e" stroke="#2e2e2e" stroke-width="0.18">Обозначение основания</text>
<text transform="translate(202.10,487.50) scale(0.92,1)" font-size="7.9" text-anchor="middle" fill="#2e2e2e" stroke="#2e2e2e" stroke-width="0.18">S</text>
<text transform="translate(221.05,487.50) scale(0.92,1)" font-size="7.9" text-anchor="middle" fill="#2e2e2e" stroke="#2e2e2e" stroke-width="0.18">L</text>
<text transform="translate(242.95,487.50) scale(0.92,1)" font-size="7.9" text-anchor="middle" fill="#2e2e2e" stroke="#2e2e2e" stroke-width="0.18">B</text>
<text transform="translate(273.55,487.50) scale(0.92,1)" font-size="7.9" text-anchor="middle" fill="#2e2e2e" stroke="#2e2e2e" stroke-width="0.18">Масса, кг</text>
<text transform="translate(149.45,502.70) scale(0.85,1)" font-size="7.9" text-anchor="middle" fill="#2e2e2e" stroke="#2e2e2e" stroke-width="0.18">Л8-180.101-01</text>
<text transform="translate(202.10,502.70) scale(0.85,1)" font-size="7.9" text-anchor="middle" fill="#2e2e2e" stroke="#2e2e2e" stroke-width="0.18">6</text>
<text transform="translate(221.05,502.70) scale(0.85,1)" font-size="7.9" text-anchor="middle" fill="#2e2e2e" stroke="#2e2e2e" stroke-width="0.18">350</text>
<text transform="translate(242.95,502.70) scale(0.85,1)" font-size="7.9" text-anchor="middle" fill="#2e2e2e" stroke="#2e2e2e" stroke-width="0.18">85</text>
<text transform="translate(273.55,502.70) scale(0.85,1)" font-size="7.9" text-anchor="middle" fill="#2e2e2e" stroke="#2e2e2e" stroke-width="0.18">2,34</text>
<text transform="translate(149.45,518.50) scale(0.85,1)" font-size="7.9" text-anchor="middle" fill="#2e2e2e" stroke="#2e2e2e" stroke-width="0.18">Л8-180.101-02</text>
<text transform="translate(202.10,518.50) scale(0.85,1)" font-size="7.9" text-anchor="middle" fill="#2e2e2e" stroke="#2e2e2e" stroke-width="0.18">6</text>
<text transform="translate(221.05,518.50) scale(0.85,1)" font-size="7.9" text-anchor="middle" fill="#2e2e2e" stroke="#2e2e2e" stroke-width="0.18">350</text>
<text transform="translate(242.95,518.50) scale(0.85,1)" font-size="7.9" text-anchor="middle" fill="#2e2e2e" stroke="#2e2e2e" stroke-width="0.18">105</text>
<text transform="translate(273.55,518.50) scale(0.85,1)" font-size="7.9" text-anchor="middle" fill="#2e2e2e" stroke="#2e2e2e" stroke-width="0.18">2,88</text>
<text transform="translate(149.45,534.00) scale(0.85,1)" font-size="7.9" text-anchor="middle" fill="#2e2e2e" stroke="#2e2e2e" stroke-width="0.18">Л8-180.101-03</text>
<text transform="translate(202.10,534.00) scale(0.85,1)" font-size="7.9" text-anchor="middle" fill="#2e2e2e" stroke="#2e2e2e" stroke-width="0.18">6</text>
<text transform="translate(221.05,534.00) scale(0.85,1)" font-size="7.9" text-anchor="middle" fill="#2e2e2e" stroke="#2e2e2e" stroke-width="0.18">350</text>
<text transform="translate(242.95,534.00) scale(0.85,1)" font-size="7.9" text-anchor="middle" fill="#2e2e2e" stroke="#2e2e2e" stroke-width="0.18">145</text>
<text transform="translate(273.55,534.00) scale(0.85,1)" font-size="7.9" text-anchor="middle" fill="#2e2e2e" stroke="#2e2e2e" stroke-width="0.18">3,98</text>
<text transform="translate(149.45,549.70) scale(0.85,1)" font-size="7.9" text-anchor="middle" fill="#2e2e2e" stroke="#2e2e2e" stroke-width="0.18">Л8-180.101-04</text>
<text transform="translate(202.10,549.70) scale(0.85,1)" font-size="7.9" text-anchor="middle" fill="#2e2e2e" stroke="#2e2e2e" stroke-width="0.18">6</text>
<text transform="translate(221.05,549.70) scale(0.85,1)" font-size="7.9" text-anchor="middle" fill="#2e2e2e" stroke="#2e2e2e" stroke-width="0.18">350</text>
<text transform="translate(242.95,549.70) scale(0.85,1)" font-size="7.9" text-anchor="middle" fill="#2e2e2e" stroke="#2e2e2e" stroke-width="0.18">165</text>
<text transform="translate(273.55,549.70) scale(0.85,1)" font-size="7.9" text-anchor="middle" fill="#2e2e2e" stroke="#2e2e2e" stroke-width="0.18">4,53</text>
<text transform="translate(149.45,565.50) scale(0.85,1)" font-size="7.9" text-anchor="middle" fill="#2e2e2e" stroke="#2e2e2e" stroke-width="0.18">Л8-180.101-05</text>
<text transform="translate(202.10,565.50) scale(0.85,1)" font-size="7.9" text-anchor="middle" fill="#2e2e2e" stroke="#2e2e2e" stroke-width="0.18">6</text>
<text transform="translate(221.05,565.50) scale(0.85,1)" font-size="7.9" text-anchor="middle" fill="#2e2e2e" stroke="#2e2e2e" stroke-width="0.18">400</text>
<text transform="translate(242.95,565.50) scale(0.85,1)" font-size="7.9" text-anchor="middle" fill="#2e2e2e" stroke="#2e2e2e" stroke-width="0.18">250</text>
<text transform="translate(273.55,565.50) scale(0.85,1)" font-size="7.9" text-anchor="middle" fill="#2e2e2e" stroke="#2e2e2e" stroke-width="0.18">7,85</text>
<text transform="translate(149.45,581.30) scale(0.85,1)" font-size="7.9" text-anchor="middle" fill="#2e2e2e" stroke="#2e2e2e" stroke-width="0.18">Л8-180.101-06</text>
<text transform="translate(202.10,581.30) scale(0.85,1)" font-size="7.9" text-anchor="middle" fill="#2e2e2e" stroke="#2e2e2e" stroke-width="0.18">8</text>
<text transform="translate(221.05,581.30) scale(0.85,1)" font-size="7.9" text-anchor="middle" fill="#2e2e2e" stroke="#2e2e2e" stroke-width="0.18">450</text>
<text transform="translate(242.95,581.30) scale(0.85,1)" font-size="7.9" text-anchor="middle" fill="#2e2e2e" stroke="#2e2e2e" stroke-width="0.18">350</text>
<text transform="translate(273.55,581.30) scale(0.85,1)" font-size="7.9" text-anchor="middle" fill="#2e2e2e" stroke="#2e2e2e" stroke-width="0.18">12,36</text>
<text transform="translate(149.45,596.90) scale(0.85,1)" font-size="7.9" text-anchor="middle" fill="#2e2e2e" stroke="#2e2e2e" stroke-width="0.18">Л8-180.101-07</text>
<text transform="translate(202.10,596.90) scale(0.85,1)" font-size="7.9" text-anchor="middle" fill="#2e2e2e" stroke="#2e2e2e" stroke-width="0.18">8</text>
<text transform="translate(221.05,596.90) scale(0.85,1)" font-size="7.9" text-anchor="middle" fill="#2e2e2e" stroke="#2e2e2e" stroke-width="0.18">500</text>
<text transform="translate(242.95,596.90) scale(0.85,1)" font-size="7.9" text-anchor="middle" fill="#2e2e2e" stroke="#2e2e2e" stroke-width="0.18">450</text>
<text transform="translate(273.55,596.90) scale(0.85,1)" font-size="7.9" text-anchor="middle" fill="#2e2e2e" stroke="#2e2e2e" stroke-width="0.18">17,66</text>
<text transform="translate(149.45,612.70) scale(0.85,1)" font-size="7.9" text-anchor="middle" fill="#2e2e2e" stroke="#2e2e2e" stroke-width="0.18">Л8-180.101-08</text>
<text transform="translate(202.10,612.70) scale(0.85,1)" font-size="7.9" text-anchor="middle" fill="#2e2e2e" stroke="#2e2e2e" stroke-width="0.18">8</text>
<text transform="translate(221.05,612.70) scale(0.85,1)" font-size="7.9" text-anchor="middle" fill="#2e2e2e" stroke="#2e2e2e" stroke-width="0.18">500</text>
<text transform="translate(242.95,612.70) scale(0.85,1)" font-size="7.9" text-anchor="middle" fill="#2e2e2e" stroke="#2e2e2e" stroke-width="0.18">550</text>
<text transform="translate(273.55,612.70) scale(0.85,1)" font-size="7.9" text-anchor="middle" fill="#2e2e2e" stroke="#2e2e2e" stroke-width="0.18">21,58</text>
<text transform="translate(149.45,627.90) scale(0.85,1)" font-size="7.9" text-anchor="middle" fill="#2e2e2e" stroke="#2e2e2e" stroke-width="0.18">Л8-180.101-09</text>
<text transform="translate(202.10,627.90) scale(0.85,1)" font-size="7.9" text-anchor="middle" fill="#2e2e2e" stroke="#2e2e2e" stroke-width="0.18">10</text>
<text transform="translate(221.05,627.90) scale(0.85,1)" font-size="7.9" text-anchor="middle" fill="#2e2e2e" stroke="#2e2e2e" stroke-width="0.18">600</text>
<text transform="translate(242.95,627.90) scale(0.85,1)" font-size="7.9" text-anchor="middle" fill="#2e2e2e" stroke="#2e2e2e" stroke-width="0.18">650</text>
<text transform="translate(273.55,627.90) scale(0.85,1)" font-size="7.9" text-anchor="middle" fill="#2e2e2e" stroke="#2e2e2e" stroke-width="0.18">30,61</text>
<text transform="translate(149.45,643.70) scale(0.85,1)" font-size="7.9" text-anchor="middle" fill="#2e2e2e" stroke="#2e2e2e" stroke-width="0.18">Л8-180.101-10</text>
<text transform="translate(202.10,643.70) scale(0.85,1)" font-size="7.9" text-anchor="middle" fill="#2e2e2e" stroke="#2e2e2e" stroke-width="0.18">10</text>
<text transform="translate(221.05,643.70) scale(0.85,1)" font-size="7.9" text-anchor="middle" fill="#2e2e2e" stroke="#2e2e2e" stroke-width="0.18">600</text>
<text transform="translate(242.95,643.70) scale(0.85,1)" font-size="7.9" text-anchor="middle" fill="#2e2e2e" stroke="#2e2e2e" stroke-width="0.18">750</text>
<text transform="translate(273.55,643.70) scale(0.85,1)" font-size="7.9" text-anchor="middle" fill="#2e2e2e" stroke="#2e2e2e" stroke-width="0.18">35,30</text>
<text transform="translate(149.45,659.20) scale(0.85,1)" font-size="7.9" text-anchor="middle" fill="#2e2e2e" stroke="#2e2e2e" stroke-width="0.18">Л8-180.101-11</text>
<text transform="translate(202.10,659.20) scale(0.85,1)" font-size="7.9" text-anchor="middle" fill="#2e2e2e" stroke="#2e2e2e" stroke-width="0.18">10</text>
<text transform="translate(221.05,659.20) scale(0.85,1)" font-size="7.9" text-anchor="middle" fill="#2e2e2e" stroke="#2e2e2e" stroke-width="0.18">700</text>
<text transform="translate(242.95,659.20) scale(0.85,1)" font-size="7.9" text-anchor="middle" fill="#2e2e2e" stroke="#2e2e2e" stroke-width="0.18">850</text>
<text transform="translate(273.55,659.20) scale(0.85,1)" font-size="7.9" text-anchor="middle" fill="#2e2e2e" stroke="#2e2e2e" stroke-width="0.18">46,70</text>
<text transform="translate(149.45,675.20) scale(0.85,1)" font-size="7.9" text-anchor="middle" fill="#2e2e2e" stroke="#2e2e2e" stroke-width="0.18">Л8-180.101-12</text>
<text transform="translate(202.10,675.20) scale(0.85,1)" font-size="7.9" text-anchor="middle" fill="#2e2e2e" stroke="#2e2e2e" stroke-width="0.18">10</text>
<text transform="translate(221.05,675.20) scale(0.85,1)" font-size="7.9" text-anchor="middle" fill="#2e2e2e" stroke="#2e2e2e" stroke-width="0.18">700</text>
<text transform="translate(242.95,675.20) scale(0.85,1)" font-size="7.9" text-anchor="middle" fill="#2e2e2e" stroke="#2e2e2e" stroke-width="0.18">950</text>
<text transform="translate(273.55,675.20) scale(0.85,1)" font-size="7.9" text-anchor="middle" fill="#2e2e2e" stroke="#2e2e2e" stroke-width="0.18">52,20</text>
<line x1="408.40000000000003" y1="479.3" x2="549.0" y2="479.3" stroke="#505050" stroke-width="1.35" />
<line x1="408.40000000000003" y1="494.5" x2="549.0" y2="494.5" stroke="#505050" stroke-width="1.35" />
<line x1="408.40000000000003" y1="510.3" x2="549.0" y2="510.3" stroke="#505050" stroke-width="1.35" />
<line x1="408.40000000000003" y1="525.8" x2="549.0" y2="525.8" stroke="#505050" stroke-width="1.35" />
<line x1="408.40000000000003" y1="541.5" x2="549.0" y2="541.5" stroke="#505050" stroke-width="1.35" />
<line x1="408.40000000000003" y1="557.3" x2="549.0" y2="557.3" stroke="#505050" stroke-width="1.35" />
<line x1="408.40000000000003" y1="573.1" x2="549.0" y2="573.1" stroke="#505050" stroke-width="1.35" />
<line x1="408.40000000000003" y1="588.7" x2="549.0" y2="588.7" stroke="#505050" stroke-width="1.35" />
<line x1="408.40000000000003" y1="604.5" x2="549.0" y2="604.5" stroke="#505050" stroke-width="1.35" />
<line x1="408.40000000000003" y1="619.7" x2="549.0" y2="619.7" stroke="#505050" stroke-width="1.35" />
<line x1="408.40000000000003" y1="635.5" x2="549.0" y2="635.5" stroke="#505050" stroke-width="1.35" />
<line x1="408.40000000000003" y1="651" x2="549.0" y2="651" stroke="#505050" stroke-width="1.35" />
<line x1="408.40000000000003" y1="667" x2="549.0" y2="667" stroke="#505050" stroke-width="1.35" />
<line x1="408.40000000000003" y1="681.2" x2="549.0" y2="681.2" stroke="#505050" stroke-width="1.35" />
<line x1="409.1" y1="478.6" x2="409.1" y2="681.9000000000001" stroke="#505050" stroke-width="1.35" />
<line x1="487.4" y1="478.6" x2="487.4" y2="681.9000000000001" stroke="#505050" stroke-width="1.35" />
<line x1="508.1" y1="478.6" x2="508.1" y2="681.9000000000001" stroke="#505050" stroke-width="1.35" />
<line x1="548.3" y1="478.6" x2="548.3" y2="681.9000000000001" stroke="#505050" stroke-width="1.35" />
<text transform="translate(448.85,487.50) scale(0.92,1)" font-size="7.9" text-anchor="middle" fill="#2e2e2e" stroke="#2e2e2e" stroke-width="0.18">Обозначение прутка</text>
<text transform="translate(498.35,487.50) scale(0.92,1)" font-size="7.9" text-anchor="middle" fill="#2e2e2e" stroke="#2e2e2e" stroke-width="0.18">L</text>
<text transform="translate(528.80,487.50) scale(0.92,1)" font-size="7.9" text-anchor="middle" fill="#2e2e2e" stroke="#2e2e2e" stroke-width="0.18">Масса, кг</text>
<text transform="translate(448.85,502.70) scale(0.85,1)" font-size="7.9" text-anchor="middle" fill="#2e2e2e" stroke="#2e2e2e" stroke-width="0.18">Л8-180.102-01</text>
<text transform="translate(498.35,502.70) scale(0.85,1)" font-size="7.9" text-anchor="middle" fill="#2e2e2e" stroke="#2e2e2e" stroke-width="0.18">350</text>
<text transform="translate(528.80,502.70) scale(0.85,1)" font-size="7.9" text-anchor="middle" fill="#2e2e2e" stroke="#2e2e2e" stroke-width="0.18">0,22</text>
<text transform="translate(448.85,518.50) scale(0.85,1)" font-size="7.9" text-anchor="middle" fill="#2e2e2e" stroke="#2e2e2e" stroke-width="0.18">Л8-180.102-02</text>
<text transform="translate(498.35,518.50) scale(0.85,1)" font-size="7.9" text-anchor="middle" fill="#2e2e2e" stroke="#2e2e2e" stroke-width="0.18">350</text>
<text transform="translate(528.80,518.50) scale(0.85,1)" font-size="7.9" text-anchor="middle" fill="#2e2e2e" stroke="#2e2e2e" stroke-width="0.18">0,22</text>
<text transform="translate(448.85,534.00) scale(0.85,1)" font-size="7.9" text-anchor="middle" fill="#2e2e2e" stroke="#2e2e2e" stroke-width="0.18">Л8-180.102-03</text>
<text transform="translate(498.35,534.00) scale(0.85,1)" font-size="7.9" text-anchor="middle" fill="#2e2e2e" stroke="#2e2e2e" stroke-width="0.18">350</text>
<text transform="translate(528.80,534.00) scale(0.85,1)" font-size="7.9" text-anchor="middle" fill="#2e2e2e" stroke="#2e2e2e" stroke-width="0.18">0,22</text>
<text transform="translate(448.85,549.70) scale(0.85,1)" font-size="7.9" text-anchor="middle" fill="#2e2e2e" stroke="#2e2e2e" stroke-width="0.18">Л8-180.102-04</text>
<text transform="translate(498.35,549.70) scale(0.85,1)" font-size="7.9" text-anchor="middle" fill="#2e2e2e" stroke="#2e2e2e" stroke-width="0.18">350</text>
<text transform="translate(528.80,549.70) scale(0.85,1)" font-size="7.9" text-anchor="middle" fill="#2e2e2e" stroke="#2e2e2e" stroke-width="0.18">0,22</text>
<text transform="translate(448.85,565.50) scale(0.85,1)" font-size="7.9" text-anchor="middle" fill="#2e2e2e" stroke="#2e2e2e" stroke-width="0.18">Л8-180.102-05</text>
<text transform="translate(498.35,565.50) scale(0.85,1)" font-size="7.9" text-anchor="middle" fill="#2e2e2e" stroke="#2e2e2e" stroke-width="0.18">400</text>
<text transform="translate(528.80,565.50) scale(0.85,1)" font-size="7.9" text-anchor="middle" fill="#2e2e2e" stroke="#2e2e2e" stroke-width="0.18">0,24</text>
<text transform="translate(448.85,581.30) scale(0.85,1)" font-size="7.9" text-anchor="middle" fill="#2e2e2e" stroke="#2e2e2e" stroke-width="0.18">Л8-180.102-06</text>
<text transform="translate(498.35,581.30) scale(0.85,1)" font-size="7.9" text-anchor="middle" fill="#2e2e2e" stroke="#2e2e2e" stroke-width="0.18">450</text>
<text transform="translate(528.80,581.30) scale(0.85,1)" font-size="7.9" text-anchor="middle" fill="#2e2e2e" stroke="#2e2e2e" stroke-width="0.18">0,28</text>
<text transform="translate(448.85,596.90) scale(0.85,1)" font-size="7.9" text-anchor="middle" fill="#2e2e2e" stroke="#2e2e2e" stroke-width="0.18">Л8-180.102-07</text>
<text transform="translate(498.35,596.90) scale(0.85,1)" font-size="7.9" text-anchor="middle" fill="#2e2e2e" stroke="#2e2e2e" stroke-width="0.18">500</text>
<text transform="translate(528.80,596.90) scale(0.85,1)" font-size="7.9" text-anchor="middle" fill="#2e2e2e" stroke="#2e2e2e" stroke-width="0.18">0,30</text>
<text transform="translate(448.85,612.70) scale(0.85,1)" font-size="7.9" text-anchor="middle" fill="#2e2e2e" stroke="#2e2e2e" stroke-width="0.18">Л8-180.102-08</text>
<text transform="translate(498.35,612.70) scale(0.85,1)" font-size="7.9" text-anchor="middle" fill="#2e2e2e" stroke="#2e2e2e" stroke-width="0.18">500</text>
<text transform="translate(528.80,612.70) scale(0.85,1)" font-size="7.9" text-anchor="middle" fill="#2e2e2e" stroke="#2e2e2e" stroke-width="0.18">0,30</text>
<text transform="translate(448.85,627.90) scale(0.85,1)" font-size="7.9" text-anchor="middle" fill="#2e2e2e" stroke="#2e2e2e" stroke-width="0.18">Л8-180.102-09</text>
<text transform="translate(498.35,627.90) scale(0.85,1)" font-size="7.9" text-anchor="middle" fill="#2e2e2e" stroke="#2e2e2e" stroke-width="0.18">600</text>
<text transform="translate(528.80,627.90) scale(0.85,1)" font-size="7.9" text-anchor="middle" fill="#2e2e2e" stroke="#2e2e2e" stroke-width="0.18">0,38</text>
<text transform="translate(448.85,643.70) scale(0.85,1)" font-size="7.9" text-anchor="middle" fill="#2e2e2e" stroke="#2e2e2e" stroke-width="0.18">Л8-180.102-10</text>
<text transform="translate(498.35,643.70) scale(0.85,1)" font-size="7.9" text-anchor="middle" fill="#2e2e2e" stroke="#2e2e2e" stroke-width="0.18">600</text>
<text transform="translate(528.80,643.70) scale(0.85,1)" font-size="7.9" text-anchor="middle" fill="#2e2e2e" stroke="#2e2e2e" stroke-width="0.18">0,38</text>
<text transform="translate(448.85,659.20) scale(0.85,1)" font-size="7.9" text-anchor="middle" fill="#2e2e2e" stroke="#2e2e2e" stroke-width="0.18">Л8-180.102-11</text>
<text transform="translate(498.35,659.20) scale(0.85,1)" font-size="7.9" text-anchor="middle" fill="#2e2e2e" stroke="#2e2e2e" stroke-width="0.18">700</text>
<text transform="translate(528.80,659.20) scale(0.85,1)" font-size="7.9" text-anchor="middle" fill="#2e2e2e" stroke="#2e2e2e" stroke-width="0.18">0,43</text>
<text transform="translate(448.85,675.20) scale(0.85,1)" font-size="7.9" text-anchor="middle" fill="#2e2e2e" stroke="#2e2e2e" stroke-width="0.18">Л8-180.102-12</text>
<text transform="translate(498.35,675.20) scale(0.85,1)" font-size="7.9" text-anchor="middle" fill="#2e2e2e" stroke="#2e2e2e" stroke-width="0.18">700</text>
<text transform="translate(528.80,675.20) scale(0.85,1)" font-size="7.9" text-anchor="middle" fill="#2e2e2e" stroke="#2e2e2e" stroke-width="0.18">0,43</text>
</svg></body></html>
